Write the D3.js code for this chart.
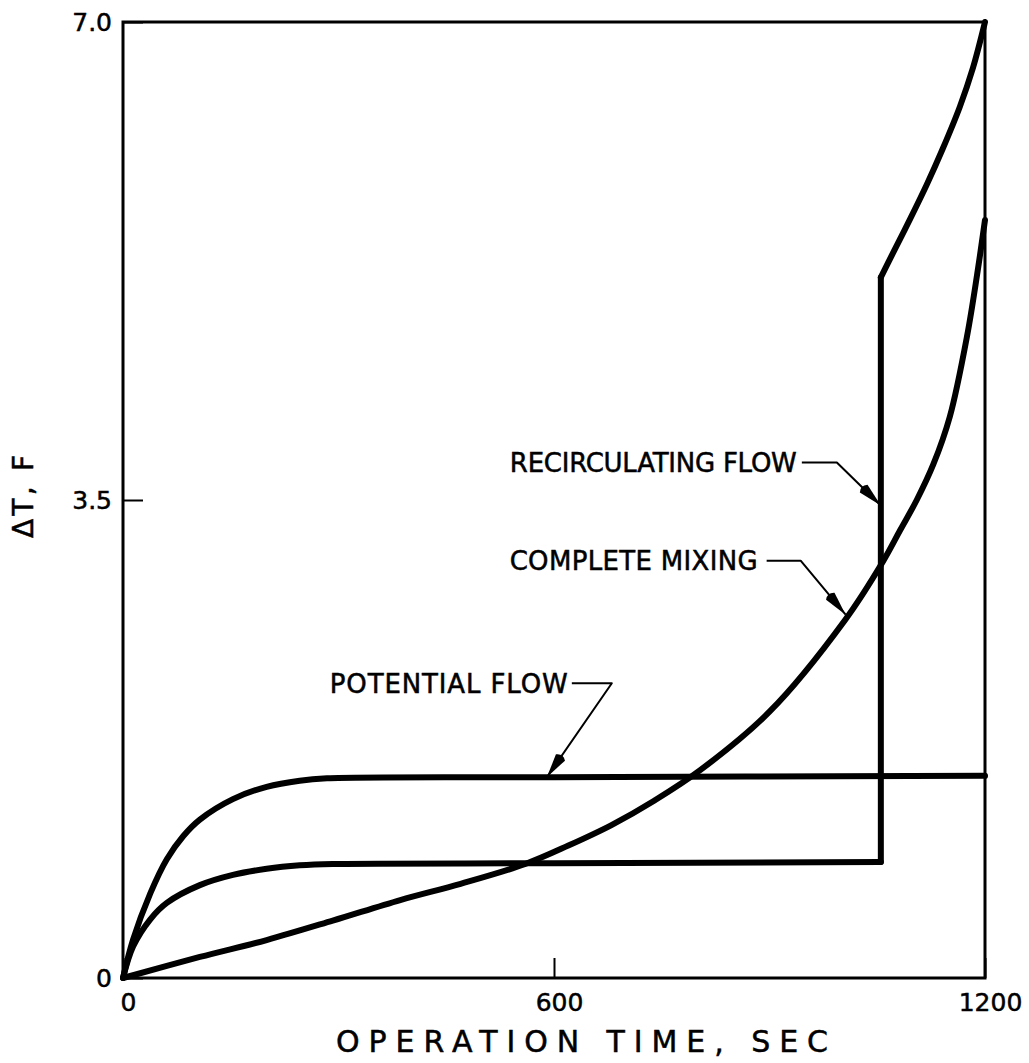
<!DOCTYPE html>
<html>
<head>
<meta charset="utf-8">
<script src="https://cdn.jsdelivr.net/npm/d3@7"></script>
<style>
  html, body { margin: 0; padding: 0; background: #fff; }
  svg { display: block; }
  text { font-family: "DejaVu Sans", "Liberation Sans", sans-serif; fill: #000; stroke: #000; stroke-width: 0.5px; }
</style>
</head>
<body>
<svg id="chart" width="1029" height="1063"></svg>
<script>
// Temperature rise vs. operation time for three flow models

// Potential flow: quick rise, then flat
const potentialT = [0, 14, 38, 61, 84, 107, 153, 200, 246, 284, 600, 1200];
const potentialDT = [0, 0.28, 0.62, 0.87, 1.04, 1.16, 1.31, 1.40, 1.445, 1.462, 1.47, 1.48];

// Recirculating flow: rise, plateau, jump at ~1055 s, then steep climb
const recircLowT = [0, 14, 38, 61, 107, 153, 200, 246, 292, 600, 1055];
const recircLowDT = [0, 0.23, 0.43, 0.55, 0.68, 0.755, 0.80, 0.825, 0.835, 0.84, 0.85];
const recircHighT = [1055, 1072, 1096, 1119, 1141, 1165, 1183, 1200];
const recircHighDT = [5.13, 5.31, 5.56, 5.81, 6.07, 6.38, 6.66, 7.0];

// Complete mixing: smooth accelerating growth
const mixingT = [0, 107, 200, 292, 386, 470, 560, 620, 680, 740, 803, 900, 1005, 1058, 1082, 1105, 1128, 1151, 1175, 1189, 1200];
const mixingDT = [0, 0.154, 0.278, 0.42, 0.571, 0.69, 0.835, 0.97, 1.12, 1.30, 1.52, 1.95, 2.62, 3.05, 3.28, 3.50, 3.76, 4.11, 4.70, 5.15, 5.55];

// Axis ticks
const xTicks = [0, 600, 1200];
const yTicks = [0, 3.5, 7.0];
const yTickLabels = ["0", "3.5", "7.0"];

// Curve labels and the point (time, ΔT) each leader arrow touches
const labelNames = ["POTENTIAL FLOW", "RECIRCULATING FLOW", "COMPLETE MIXING"];
const labelTipT = [590, 1055, 1006];
const labelTipDT = [1.47, 3.46, 2.66];

const svg = d3.select("#chart");
const plotLeft = 123, plotRight = 985, plotTop = 22, plotBottom = 978;

const x = d3.scaleLinear().domain([0, 1200]).range([plotLeft, plotRight]);
const y = d3.scaleLinear().domain([0, 7]).range([plotBottom, plotTop]);

// Frame
svg.append("rect")
  .attr("x", plotLeft).attr("y", plotTop)
  .attr("width", plotRight - plotLeft).attr("height", plotBottom - plotTop)
  .attr("fill", "none").attr("stroke", "#000").attr("stroke-width", 3);

// Axes (inward ticks)
const xAxis = svg.append("g")
  .attr("transform", `translate(0,${plotBottom})`)
  .call(d3.axisBottom(x).tickValues(xTicks).tickSizeInner(-20).tickSizeOuter(0).tickPadding(15).tickFormat(d3.format("d")));
xAxis.select(".domain").remove();
xAxis.selectAll("line").attr("stroke", "#000").attr("stroke-width", 2);
xAxis.selectAll("text").attr("font-size", 25).attr("dx", 5).style("font-family", "DejaVu Sans");

const yAxis = svg.append("g")
  .attr("transform", `translate(${plotLeft},0)`)
  .call(d3.axisLeft(y).tickValues(yTicks).tickSizeInner(-20).tickSizeOuter(0).tickPadding(11)
    .tickFormat((d, i) => yTickLabels[i]));
yAxis.select(".domain").remove();
yAxis.selectAll("line").attr("stroke", "#000").attr("stroke-width", 2);
yAxis.selectAll("text").attr("font-size", 25).style("font-family", "DejaVu Sans");

// Axis titles
svg.append("text")
  .attr("x", 336).attr("y", 1052)
  .attr("font-size", 30)
  .attr("textLength", 492).attr("lengthAdjust", "spacing")
  .text("OPERATION TIME, SEC");

svg.append("text")
  .attr("transform", "translate(33,538) rotate(-90)")
  .attr("font-size", 28)
  .attr("textLength", 83).attr("lengthAdjust", "spacing")
  .text("ΔT, F");

// Curves
const line = d3.line().x(d => x(d[0])).y(d => y(d[1])).curve(d3.curveCatmullRom.alpha(0.5));
const vline = d3.line().x(d => x(d[0])).y(d => y(d[1]));
const zip = (a, b) => a.map((v, i) => [v, b[i]]);

const curves = svg.append("g")
  .attr("fill", "none").attr("stroke", "#000").attr("stroke-width", 6)
  .attr("stroke-linecap", "round").attr("stroke-linejoin", "round");

curves.append("path").attr("d", line(zip(potentialT, potentialDT)));
curves.append("path").attr("d", line(zip(mixingT, mixingDT)));
curves.append("path").attr("d", line(zip(recircLowT, recircLowDT)));
curves.append("path").attr("d", vline([
  [recircLowT[recircLowT.length - 1], recircLowDT[recircLowDT.length - 1]],
  [recircHighT[0], recircHighDT[0]]
]));
curves.append("path").attr("d", line(zip(recircHighT, recircHighDT)));

// Labels with leader lines and filled arrowheads
const leaderGeom = [
  { elbow: [65, -94], start: [25, -94], textEnd: 21, width: 238 },
  { elbow: [-44, -43], start: [-79, -43], textEnd: -84, width: 287 },
  { elbow: [-45, -54], start: [-79, -54], textEnd: -88, width: 248 }
];

labelNames.forEach((name, i) => {
  const tx = x(labelTipT[i]), ty = y(labelTipDT[i]);
  const g = leaderGeom[i];
  const ex = tx + g.elbow[0], ey = ty + g.elbow[1];
  const sx = tx + g.start[0], sy = ty + g.start[1];

  svg.append("path")
    .attr("d", `M${sx},${sy}L${ex},${ey}L${tx},${ty}`)
    .attr("fill", "none").attr("stroke", "#000").attr("stroke-width", 2)
    .attr("stroke-linejoin", "round");

  // Arrowhead along the final leader segment
  const dx = ex - tx, dy = ey - ty, len = Math.hypot(dx, dy);
  const ux = dx / len, uy = dy / len, px = -uy, py = ux;
  const L = 24, w = 5.5;
  const bx = tx + ux * L, by = ty + uy * L;
  svg.append("path")
    .attr("d", `M${tx},${ty}L${bx + px * w},${by + py * w}Q${bx + ux * 5},${by + uy * 5} ${bx - px * w},${by - py * w}Z`)
    .attr("fill", "#000");

  svg.append("text")
    .attr("x", tx + g.textEnd - g.width).attr("y", ty + g.elbow[1] + 9.5)
    .attr("font-size", 26)
    .attr("textLength", g.width).attr("lengthAdjust", "spacing")
    .text(name);
});
</script>
</body>
</html>
